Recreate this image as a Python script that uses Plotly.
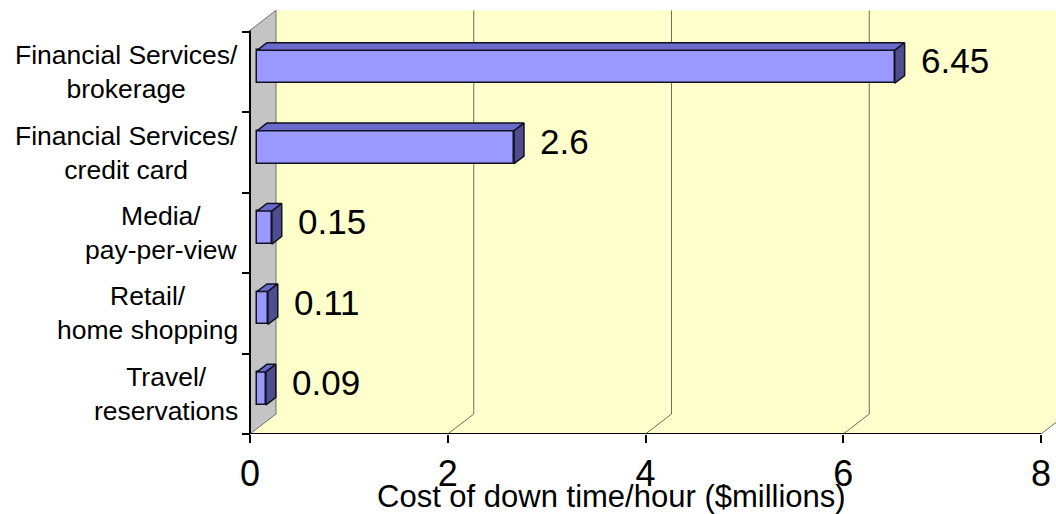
import plotly.graph_objects as go

# ---------------- data ----------------
categories = ["Financial Services/<br>brokerage",
              "Financial Services/<br>credit card",
              "Media/<br>pay-per-view",
              "Retail/<br>home shopping",
              "Travel/<br>reservations"]
values = [6.45, 2.6, 0.15, 0.11, 0.09]
value_labels = ["6.45", "2.6", "0.15", "0.11", "0.09"]
x_ticks = [0, 2, 4, 6, 8]
x_title = "Cost of down time/hour ($millions)"

# ---------------- geometry / style ----------------
W, H = 1056, 514
ML, MB = 0, 80
PX_X0 = 250.0            # pixel of x=0
PX_PER_X = 98.875        # pixels per x unit
PLOT_H = H - MB
BAND_PX = 80.4
Y_TOP_PX = 32.0          # top category boundary
xr = [-PX_X0 / PX_PER_X, (W - PX_X0) / PX_PER_X]
y_at_top = -0.5 - Y_TOP_PX / BAND_PX
yr = [y_at_top + PLOT_H / BAND_PX, y_at_top]   # reversed

DXU = 26 / PX_PER_X       # depth offset (x units)
DYU = 20 / BAND_PX        # depth offset (y units, upward)
F = 0.27                  # bar front-face depth fraction
D = 0.38                  # bar depth fraction
HALF = 0.205              # bar half-height (y units)

n = len(categories)
front_bottom = n - 0.5
front_top = -0.52
back_top = front_top - DYU
back_bottom = front_bottom - DYU

FONT = "Liberation Sans, Arial, sans-serif"
FRONT_C = "#9999FF"
TOP_C = "#6A6ACB"
SIDE_C = "#4E4E8E"
EDGE_C = "#111122"

fig = go.Figure()

# 3D top & side faces
tx, ty, sx, sy = [], [], [], []
for i, v in enumerate(values):
    x0 = F * DXU
    x1 = v + F * DXU
    yc = i - F * DYU
    yt, yb = yc - HALF, yc + HALF
    ddx, ddy = D * DXU, D * DYU
    tx += [x0, x1, x1 + ddx, x0 + ddx, x0, None]
    ty += [yt, yt, yt - ddy, yt - ddy, yt, None]
    sx += [x1, x1 + ddx, x1 + ddx, x1, x1, None]
    sy += [yt, yt - ddy, yb - ddy, yb, yt, None]

fig.add_trace(go.Bar(
    y=[i - F * DYU for i in range(n)], x=values, base=[F * DXU] * n,
    orientation="h", width=2 * HALF,
    marker=dict(color=FRONT_C, line=dict(color=EDGE_C, width=1.5)),
    hoverinfo="skip", showlegend=False))
fig.add_trace(go.Scatter(x=tx, y=ty, fill="toself", fillcolor=TOP_C, mode="lines",
                         line=dict(color=EDGE_C, width=1.5), hoverinfo="skip",
                         showlegend=False))
fig.add_trace(go.Scatter(x=sx, y=sy, fill="toself", fillcolor=SIDE_C, mode="lines",
                         line=dict(color=EDGE_C, width=1.5), hoverinfo="skip",
                         showlegend=False))

shapes = []
# back wall
shapes.append(dict(type="rect", xref="x", yref="y", x0=DXU, x1=xr[1] + 0.5,
                   y0=back_top, y1=back_bottom, fillcolor="#FFFFCC",
                   line=dict(width=0), layer="below"))
# floor
xm = x_ticks[-1]
shapes.append(dict(type="path", xref="x", yref="y",
                   path=f"M0,{front_bottom} L{DXU},{back_bottom} L{xm + DXU},{back_bottom} L{xm},{front_bottom} Z",
                   fillcolor="#FFFFCC", line=dict(width=0), layer="below"))
# gridlines (back wall + floor)
for t in x_ticks[1:]:
    shapes.append(dict(type="line", xref="x", yref="y", x0=t + DXU, x1=t + DXU,
                       y0=back_top, y1=back_bottom,
                       line=dict(color="#6E6E60", width=1), layer="below"))
    shapes.append(dict(type="line", xref="x", yref="y", x0=t + DXU, x1=t,
                       y0=back_bottom, y1=front_bottom,
                       line=dict(color="#6E6E60", width=1), layer="below"))
# left wall
shapes.append(dict(type="path", xref="x", yref="y",
                   path=f"M0,{front_top} L{DXU},{back_top} L{DXU},{back_bottom} L0,{front_bottom} Z",
                   fillcolor="#C4C4C4", line=dict(color="#707070", width=1), layer="below"))
# axis lines
shapes.append(dict(type="line", xref="x", yref="y", x0=0, x1=0, y0=front_top, y1=front_bottom,
                   line=dict(color="black", width=2), layer="above"))
shapes.append(dict(type="line", xref="x", yref="y", x0=0, x1=xm, y0=front_bottom, y1=front_bottom,
                   line=dict(color="black", width=2), layer="above"))

annotations = []
# value labels
for i, (v, lab) in enumerate(zip(values, value_labels)):
    annotations.append(dict(x=v + F * DXU, y=i - F * DYU, xref="x", yref="y",
                            text=lab, showarrow=False, xanchor="left", yanchor="middle",
                            xshift=24, yshift=6,
                            font=dict(family=FONT, size=35, color="black")))
# category labels
for i, c in enumerate(categories):
    annotations.append(dict(x=240 / W, y=i, xref="paper", yref="y", text=c,
                            showarrow=False, xanchor="right", yanchor="middle",
                            align="center",
                            font=dict(family=FONT, size=26.5, color="black")))
# axis title
annotations.append(dict(x=611 / W, y=(PLOT_H - 496) / PLOT_H, xref="paper", yref="paper",
                        text=x_title, showarrow=False, xanchor="center", yanchor="middle",
                        font=dict(family=FONT, size=31, color="black")))

fig.update_layout(
    width=W, height=H,
    margin=dict(l=ML, r=0, t=0, b=MB),
    paper_bgcolor="white", plot_bgcolor="white",
    shapes=shapes, annotations=annotations,
    showlegend=False, bargap=0,
    xaxis=dict(range=xr, tickvals=x_ticks, ticktext=[str(t) for t in x_ticks],
               showgrid=False, zeroline=False, showline=False,
               ticks="outside", ticklen=8, tickwidth=2, tickcolor="black",
               tickfont=dict(family=FONT, size=36, color="black"),
               fixedrange=True),
    yaxis=dict(range=yr, tickvals=[k - 0.5 for k in range(n + 1)],
               showticklabels=False, showgrid=False, zeroline=False, showline=False,
               ticks="outside", ticklen=8, tickwidth=2, tickcolor="black",
               anchor="free", position=PX_X0 / W, fixedrange=True),
)

fig.write_html("out.html", config={"displayModeBar": False},
               post_script="document.body.style.margin='0';document.body.style.overflow='hidden';")
